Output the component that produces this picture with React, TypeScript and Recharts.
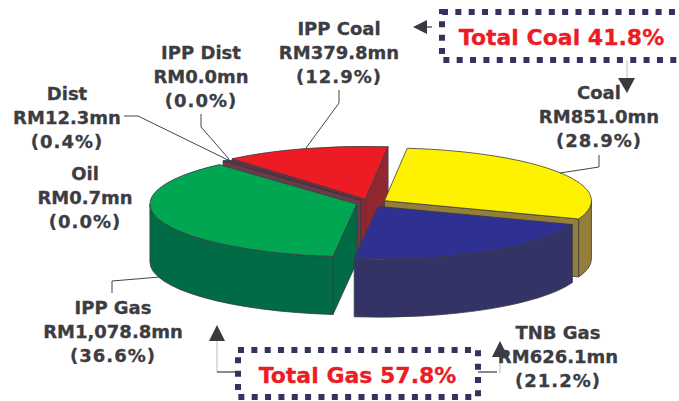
import React from "react";
import { PieChart, Pie } from "recharts";

// Generation mix, RM million, clockwise from the top of the pie.
const categories = ["Coal", "TNB Gas", "IPP Gas", "Oil", "Dist", "IPP Dist", "IPP Coal"];
const valuesRm = [851.0, 626.1, 1078.8, 0.7, 12.3, 0.0, 379.8];
const shares = [28.9, 21.2, 36.6, 0.0, 0.4, 0.0, 12.9];
const totals = [
  { label: "Total Coal", share: 41.8 },
  { label: "Total Gas", share: 57.8 },
];

const W = 679;
const H = 401;
const CX = 370;
const CY = 203;
const RADIUS = 207;
const TILT = 0.255;
const DEPTH = 58;
const EDGE = "#3a3a44";
const INK = "#3c3c42";
const TOTAL_RED = "#ed1c24";
const BOX_NAVY = "#33335f";

const topFill: Record<string, string> = {
  Coal: "#fff200",
  "TNB Gas": "#2e3192",
  "IPP Gas": "#00a651",
  Oil: "#6e3a4a",
  Dist: "#6e3a4a",
  "IPP Dist": "#6e3a4a",
  "IPP Coal": "#ed1c24",
};
const sideFill: Record<string, string> = {
  Coal: "#937e3a",
  "TNB Gas": "#333366",
  "IPP Gas": "#006b45",
  Oil: "#6e3a4a",
  Dist: "#6e3a4a",
  "IPP Dist": "#6e3a4a",
  "IPP Coal": "#92282f",
};
// How far each slice is pulled out from the pie's centre.
const explode: Record<string, number> = {
  Coal: 17,
  "TNB Gas": 15.5,
  "IPP Gas": 13.7,
  Oil: 14,
  Dist: 14,
  "IPP Dist": 14.5,
  "IPP Coal": 16,
};
// Back-to-front order for the overlapping solids.
const paintOrder = ["IPP Coal", "IPP Dist", "Dist", "Oil", "IPP Gas", "Coal", "TNB Gas"];

const chartData = categories.map((name, i) => ({ name, value: valuesRm[i] }));

const rad = (deg: number) => (deg * Math.PI) / 180;

function Slice3D(props: any) {
  const { cx, cy, outerRadius: r, startAngle: s, endAngle: e } = props;
  const name: string = props.payload?.name ?? props.name;
  const mid = rad((s + e) / 2);
  const d = explode[name] ?? 0;
  const ax = cx + d * Math.cos(mid);
  const ay = cy - d * TILT * Math.sin(mid);
  const ry = r * TILT;
  const pt = (deg: number, drop = 0): [number, number] => [
    ax + r * Math.cos(rad(deg)),
    ay - ry * Math.sin(rad(deg)) + drop,
  ];
  const f = (p: [number, number]) => `${p[0].toFixed(2)} ${p[1].toFixed(2)}`;
  const arc = (to: number, large: boolean, sweep: number, drop = 0) =>
    `A ${r} ${ry} 0 ${large ? 1 : 0} ${sweep} ${f(pt(to, drop))}`;

  const face = (deg: number) => {
    const p = pt(deg);
    return `M ${ax} ${ay} L ${f(p)} L ${f(pt(deg, DEPTH))} L ${ax} ${ay + DEPTH} Z`;
  };

  // The rim is only visible on the front half of the ellipse (angles -180..0).
  const rimFrom = Math.min(s, 0);
  const rimTo = Math.max(e, -180);
  const hasRim = rimFrom > rimTo;
  const rim = hasRim
    ? `M ${f(pt(rimFrom))} ${arc(rimTo, rimFrom - rimTo > 180, 1)} L ${f(pt(rimTo, DEPTH))} ${arc(
        rimFrom,
        rimFrom - rimTo > 180,
        0,
        DEPTH,
      )} Z`
    : "";
  const top = `M ${ax} ${ay} L ${f(pt(s))} ${arc(e, s - e > 180, 1)} Z`;

  const stroke = { stroke: EDGE, strokeWidth: 0.8, strokeLinejoin: "round" as const };
  return (
    <g>
      {Math.cos(rad(s)) < 0 && <path d={face(s)} fill={sideFill[name]} {...stroke} />}
      {Math.cos(rad(e)) > 0 && <path d={face(e)} fill={sideFill[name]} {...stroke} />}
      {hasRim && <path d={rim} fill={sideFill[name]} {...stroke} />}
      <path d={top} fill={topFill[name]} {...stroke} />
    </g>
  );
}

const labelAnchors: Record<string, [number, number]> = {
  Coal: [599, 99],
  "TNB Gas": [558, 339],
  "IPP Gas": [113, 314],
  Oil: [85, 180],
  Dist: [67, 100],
  "IPP Dist": [201, 59],
  "IPP Coal": [339, 35],
};
const leaders = [
  "124,116 138,116 228,160",
  "201,114 201,127 229,159",
  "339,90 339,103 306,148",
  "599,155 599,167 560,173",
  "112,293 112,281 160,277",
];

const money = (v: number) =>
  `RM${v.toLocaleString("en-US", { minimumFractionDigits: 1, maximumFractionDigits: 1 })}mn`;

function Annotations() {
  const textFont = { fontFamily: "'DejaVu Sans', Verdana, sans-serif", fontWeight: 700 };
  const dots = { fill: "none", stroke: BOX_NAVY, strokeWidth: 6, strokeDasharray: "6 7.35" };
  return (
    <svg width={W} height={H} style={{ position: "absolute", left: 0, top: 0, pointerEvents: "none" }}>
      {leaders.map((pts) => (
        <polyline key={pts} points={pts} fill="none" stroke="#45454a" strokeWidth={1} />
      ))}

      {/* Connectors and arrowheads around the two totals */}
      <line x1={627} y1={60} x2={627} y2={80} stroke="#c8c8c8" strokeWidth={1.2} />
      <line x1={217} y1={341} x2={217} y2={372} stroke="#c8c8c8" strokeWidth={1.2} />
      <line x1={500} y1={355} x2={500} y2={373} stroke="#c8c8c8" strokeWidth={1.2} />
      <line x1={217} y1={372} x2={238} y2={372} stroke="#3a3a40" strokeWidth={1.2} />
      <line x1={478} y1={372} x2={497} y2={372} stroke="#3a3a40" strokeWidth={1.2} />
      <line x1={425} y1={27} x2={432} y2={27} stroke="#3a3a40" strokeWidth={1.2} />
      <polygon points="413,27 427,20 427,34" fill="#3a3a40" />
      <polygon points="618,78 635,78 627,93" fill="#3a3a40" />
      <polygon points="217,325 209,341 225,341" fill="#3a3a40" />
      <polygon points="500,341 492,357 508,357" fill="#3a3a40" />

      <rect x={442} y={12} width={240} height={48} {...dots} />
      <rect x={238} y={350} width={240} height={47} {...dots} />

      <text x={561.5} y={45} textAnchor="middle" fontSize={22} fill={TOTAL_RED} stroke={TOTAL_RED} strokeWidth={0.3} {...textFont}>
        {`${totals[0].label} ${totals[0].share.toFixed(1)}%`}
      </text>
      <text x={357.5} y={383} textAnchor="middle" fontSize={22} fill={TOTAL_RED} stroke={TOTAL_RED} strokeWidth={0.3} {...textFont}>
        {`${totals[1].label} ${totals[1].share.toFixed(1)}%`}
      </text>

      {categories.map((name, i) => {
        const [x, y] = labelAnchors[name];
        return (
          <text key={name} textAnchor="middle" fontSize={18} fill={INK} stroke={INK} strokeWidth={0.3} {...textFont}>
            <tspan x={x} y={y}>{name}</tspan>
            <tspan x={x} y={y + 23.5}>{money(valuesRm[i])}</tspan>
            <tspan x={x} y={y + 47.5} letterSpacing={1}>{`(${shares[i].toFixed(1)}%)`}</tspan>
          </text>
        );
      })}
    </svg>
  );
}

export default function App() {
  return (
    <div style={{ position: "absolute", left: 0, top: 0, width: W, height: H, background: "#fff", overflow: "hidden" }}>
      <PieChart width={W} height={H} margin={{ top: 0, right: 0, bottom: 0, left: 0 }}>
        {paintOrder.map((layer) => (
          <Pie
            key={layer}
            data={chartData}
            dataKey="value"
            nameKey="name"
            cx={CX}
            cy={CY}
            innerRadius={0}
            outerRadius={RADIUS}
            startAngle={83.7}
            endAngle={-276.3}
            stroke="none"
            legendType="none"
            isAnimationActive={false}
            shape={(props: any) =>
              (props.payload?.name ?? props.name) === layer ? <Slice3D {...props} /> : <g />
            }
          />
        ))}
      </PieChart>
      <Annotations />
    </div>
  );
}
